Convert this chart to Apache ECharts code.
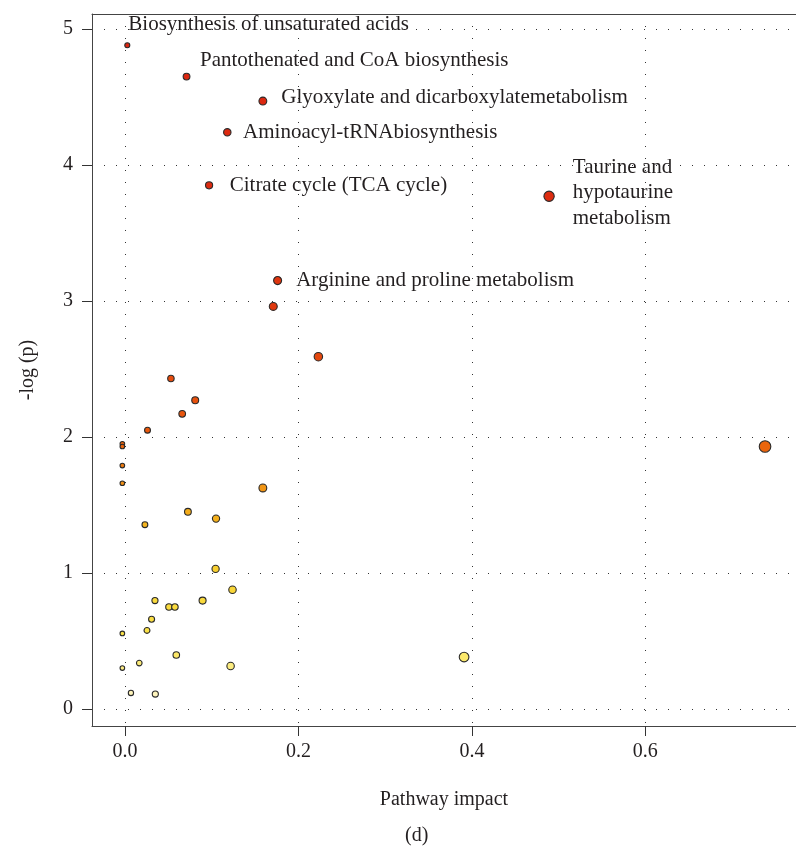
<!DOCTYPE html>
<html><head><meta charset="utf-8">
<script src="https://cdn.jsdelivr.net/npm/echarts@6/dist/echarts.min.js"></script>
<style>html,body{margin:0;padding:0;background:#fff}#c{width:796px;height:847px}</style>
</head><body><div id="c"></div>
<script>
// ---- data ----
const impact = [0.0027, 0.071, 0.159, 0.118, 0.097, 0.489, 0.176, 0.171, 0.223, 0.053,
  0.081, 0.066, 0.026, -0.003, -0.003, -0.003, -0.003, 0.159, 0.0726, 0.105,
  0.023, 0.1045, 0.124, 0.0346, 0.0507, 0.0576, 0.0895, 0.0307, 0.0254, -0.003,
  0.0592, 0.0165, 0.1218, -0.003, 0.0069, 0.035, 0.738, 0.391];
const negLogP = [4.88, 4.65, 4.47, 4.24, 3.85, 3.77, 3.15, 2.96, 2.59, 2.43,
  2.27, 2.17, 2.05, 1.95, 1.93, 1.79, 1.66, 1.625, 1.45, 1.40,
  1.355, 1.03, 0.877, 0.797, 0.75, 0.75, 0.797, 0.66, 0.578, 0.556,
  0.397, 0.338, 0.316, 0.301, 0.118, 0.11, 1.93, 0.382];
const pathwayLabels = ['Biosynthesis of unsaturated acids', 'Pantothenated and CoA biosynthesis',
  'Glyoxylate and dicarboxylatemetabolism', 'Aminoacyl-tRNAbiosynthesis', 'Citrate cycle (TCA cycle)',
  'Taurine and\nhypotaurine\nmetabolism', 'Arginine and proline metabolism'];
const xTicks = [0, 0.2, 0.4, 0.6];
const yTicks = [0, 1, 2, 3, 4, 5];

// ---- label placement (text offsets from the point) ----
const labelOffsets = [[-2, -20.7], [9.5, -16], [14, -3.3], [11.5, 0], [16.5, 0], [18, -3.5], [14, 0]];

const FONT = '"Liberation Serif", "DejaVu Serif", serif';
const TXT = '#231f20';
const AX = '#444';
const XMIN = -0.038, XMAX = 0.7737, YMIN = -0.125, YMAX = 5.11;
const sizeOf = x => 4.6 + 7 * Math.sqrt(Math.max(x, 0) / 0.74);

const data = impact.map((x, i) => {
  const d = { value: [x, negLogP[i]] };
  if (i < pathwayLabels.length) {
    d.name = pathwayLabels[i];
    d.label = { show: true, position: 'right', distance: 0, offset: labelOffsets[i],
      formatter: pathwayLabels[i], fontFamily: FONT, fontSize: 21, color: TXT, lineHeight: 25.5 };
  }
  return d;
});

const chart = echarts.init(document.getElementById('c'), null, { renderer: 'canvas' });
chart.setOption({
  animation: false,
  backgroundColor: '#fff',
  grid: { left: 92, top: 14, width: 704, height: 712, show: false },
  xAxis: [{
    type: 'value', min: XMIN, max: XMAX, position: 'bottom',
    axisLine: { show: true, onZero: false, lineStyle: { color: AX, width: 1 } },
    axisTick: { show: true, length: 10, customValues: xTicks, lineStyle: { color: '#333', width: 1 } },
    axisLabel: { customValues: xTicks, formatter: v => v.toFixed(1), margin: 16, fontSize: 20, fontFamily: FONT, color: TXT },
    splitLine: { show: true, lineStyle: { type: [1, 11], color: '#333', width: 1 } },
    name: 'Pathway impact', nameLocation: 'middle', nameGap: 64,
    nameTextStyle: { fontSize: 20, fontFamily: FONT, color: TXT }
  }, {
    type: 'value', min: XMIN, max: XMAX, position: 'top',
    axisLine: { show: true, onZero: false, lineStyle: { color: AX, width: 1 } },
    axisTick: { show: false }, axisLabel: { show: false }, splitLine: { show: false }
  }],
  yAxis: {
    type: 'value', min: YMIN, max: YMAX,
    axisLine: { show: true, onZero: false, lineStyle: { color: AX, width: 1 } },
    axisTick: { show: true, length: 10, customValues: yTicks, lineStyle: { color: '#333', width: 1 } },
    axisLabel: { customValues: yTicks, margin: 19, fontSize: 20, fontFamily: FONT, color: TXT },
    splitLine: { show: true, lineStyle: { type: [1, 11], color: '#333', width: 1 } },
    name: '-log (p)', nameLocation: 'middle', nameGap: 54, nameRotate: 90,
    nameTextStyle: { fontSize: 20, fontFamily: FONT, color: TXT }
  },
  visualMap: {
    show: false, dimension: 1, min: 0, max: 5, seriesIndex: 0,
    inRange: { color: ['#fff9dc', '#fbe44a', '#f8d232', '#f3a816', '#e95a0c', '#e54a0e', '#e0380f', '#de2e10', '#dd2a10', '#dc2810', '#dc2610'] }
  },
  series: [{
    type: 'scatter',
    xAxisIndex: 0,
    data: data,
    symbol: 'circle',
    symbolSize: v => sizeOf(v[0]),
    itemStyle: { borderColor: '#2a2a2a', borderWidth: 1.1, opacity: 1 },
    emphasis: { disabled: true }
  }],
  graphic: [{
    type: 'text', left: 405, top: 826,
    style: { text: '(d)', fontSize: 20, fontFamily: FONT, fill: TXT }
  }]
});
</script>
</body></html>
